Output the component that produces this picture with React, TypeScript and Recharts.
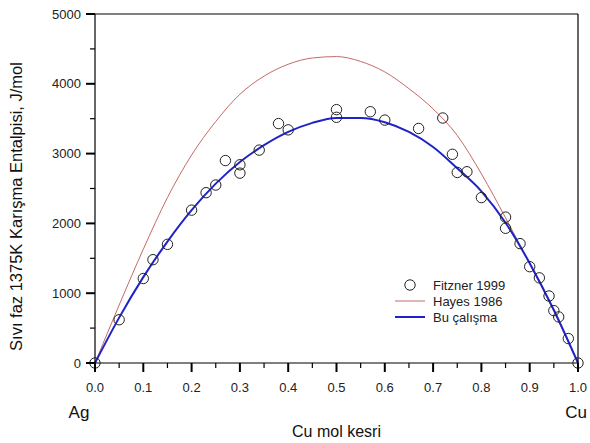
import React from "react";
import {
  ComposedChart,
  Line,
  Scatter,
  XAxis,
  YAxis,
  Legend,
} from "recharts";

// Fitzner 1999 measured points
const fitznerX = [
  0.0, 0.05, 0.1, 0.12, 0.15, 0.2, 0.23, 0.25, 0.27, 0.3, 0.3, 0.34, 0.38, 0.4,
  0.5, 0.5, 0.57, 0.6, 0.67, 0.72, 0.74, 0.75, 0.77, 0.8, 0.85, 0.85, 0.88,
  0.9, 0.92, 0.94, 0.95, 0.96, 0.98, 1.0,
];
const fitznerY = [
  0, 620, 1210, 1480, 1700, 2190, 2440, 2550, 2900, 2720, 2840, 3050, 3430,
  3340, 3630, 3520, 3600, 3480, 3360, 3510, 2990, 2730, 2740, 2370, 2090, 1930,
  1710, 1380, 1220, 960, 750, 660, 350, 0,
];

// model curves, sampled every 0.05
const curveX = [
  0.0, 0.05, 0.1, 0.15, 0.2, 0.25, 0.3, 0.35, 0.4, 0.45, 0.5, 0.55, 0.6, 0.65,
  0.7, 0.75, 0.8, 0.85, 0.9, 0.95, 1.0,
];
const hayesY = [
  0, 830, 1630, 2370, 2980, 3460, 3850, 4110, 4280, 4370, 4390, 4320, 4170,
  3930, 3640, 3260, 2710, 2080, 1420, 740, 0,
];
const buCalismaY = [
  0, 650, 1230, 1740, 2190, 2570, 2880, 3120, 3310, 3440, 3510, 3510, 3450,
  3310, 3095, 2790, 2460, 2010, 1430, 760, 0,
];

const xTicks = [
  0, 0.05, 0.1, 0.15, 0.2, 0.25, 0.3, 0.35, 0.4, 0.45, 0.5, 0.55, 0.6, 0.65,
  0.7, 0.75, 0.8, 0.85, 0.9, 0.95, 1.0,
];
const yTicks = [0, 500, 1000, 1500, 2000, 2500, 3000, 3500, 4000, 4500, 5000];

const fitzner = fitznerX.map((x, i) => ({ x, y: fitznerY[i] }));
const hayes = curveX.map((x, i) => ({ x, y: hayesY[i] }));
const buCalisma = curveX.map((x, i) => ({ x, y: buCalismaY[i] }));

const FONT = "Arial, 'Liberation Sans', sans-serif";
const RED = "#c46a66";
const BLUE = "#1f22c8";

type Side = "left" | "right" | "top" | "bottom";

function makeTick(side: Side, showLabel: boolean) {
  return (props: any) => {
    const { x, y, payload } = props;
    const v = payload.value as number;
    const vertical = side === "left" || side === "right";
    const major = vertical ? v % 1000 === 0 : Math.round(v * 20) % 2 === 0;
    const len = major ? 9 : 5;
    const sw = major ? 2 : 1.2;
    let line;
    if (side === "left") line = <line x1={x} x2={x - len} y1={y} y2={y} />;
    else if (side === "right") line = <line x1={x} x2={x + len} y1={y} y2={y} />;
    else if (side === "top") line = <line x1={x} x2={x} y1={y} y2={y - len} />;
    else line = <line x1={x} x2={x} y1={y} y2={y + len} />;
    return (
      <g>
        <g stroke="#000" strokeWidth={sw}>{line}</g>
        {showLabel && major && side === "left" && (
          <text
            x={x - 14}
            y={y}
            textAnchor="end"
            dominantBaseline="central"
            fontSize={13}
            fontFamily={FONT}
            fill="#222"
          >
            {v}
          </text>
        )}
        {showLabel && major && side === "bottom" && (
          <text
            x={x}
            y={y + 24}
            textAnchor="middle"
            dominantBaseline="central"
            fontSize={13}
            fontFamily={FONT}
            fill="#222"
          >
            {v.toFixed(1)}
          </text>
        )}
      </g>
    );
  };
}

function XLabel(props: any) {
  const { viewBox } = props;
  const left = viewBox.x;
  const right = viewBox.x + viewBox.width;
  const top = viewBox.y;
  return (
    <g fontFamily={FONT} fill="#111">
      <text x={left - 16} y={top + 49} textAnchor="middle" dominantBaseline="central" fontSize={17}>
        Ag
      </text>
      <text x={right - 2} y={top + 49} textAnchor="middle" dominantBaseline="central" fontSize={17}>
        Cu
      </text>
      <text x={left + viewBox.width / 2} y={top + 68} textAnchor="middle" dominantBaseline="central" fontSize={16}>
        Cu mol kesri
      </text>
    </g>
  );
}

function YLabel(props: any) {
  const { viewBox } = props;
  const cy = viewBox.y + viewBox.height / 2 + 18;
  const cx = 16;
  return (
    <text
      x={cx}
      y={cy}
      transform={`rotate(-90, ${cx}, ${cy})`}
      textAnchor="middle"
      dominantBaseline="central"
      fontSize={16.5}
      fontFamily={FONT}
      fill="#111"
    >
      Sıvı faz 1375K Karışma Entalpisi, J/mol
    </text>
  );
}

function OpenCircle(props: any) {
  const { cx, cy } = props;
  return <circle cx={cx} cy={cy} r={5.2} fill="none" stroke="#222" strokeWidth={1} />;
}

function LegendBox() {
  return (
    <svg width={150} height={56} style={{ display: "block", fontFamily: FONT }}>
      <circle cx={17} cy={9} r={5.2} fill="none" stroke="#222" strokeWidth={1} />
      <text x={40} y={9} dominantBaseline="central" fontSize={13} fill="#222">
        Fitzner 1999
      </text>
      <line x1={2} x2={32} y1={25} y2={25} stroke={RED} strokeWidth={1} />
      <text x={40} y={25} dominantBaseline="central" fontSize={13} fill="#222">
        Hayes 1986
      </text>
      <line x1={2} x2={32} y1={41} y2={41} stroke={BLUE} strokeWidth={2} />
      <text x={40} y={41} dominantBaseline="central" fontSize={13} fill="#222">
        Bu çalışma
      </text>
    </svg>
  );
}

export default function App() {
  return (
    <div style={{ position: "absolute", left: 0, top: 0, background: "#fff" }}>
      <ComposedChart
        width={590}
        height={443}
        margin={{ top: 4, right: 0, bottom: 50, left: 40 }}
      >
        <XAxis
          xAxisId="main"
          dataKey="x"
          type="number"
          domain={[0, 1]}
          ticks={xTicks}
          interval={0}
          height={30}
          tickLine={false}
          tickSize={0}
          tickMargin={0}
          axisLine={{ stroke: "#000", strokeWidth: 1.2 }}
          tick={makeTick("bottom", true)}
          label={<XLabel />}
        />
        <XAxis
          xAxisId="top"
          orientation="top"
          type="number"
          domain={[0, 1]}
          ticks={xTicks}
          interval={0}
          height={10}
          tickLine={false}
          tickSize={0}
          tickMargin={0}
          axisLine={{ stroke: "#000", strokeWidth: 1.2 }}
          tick={makeTick("top", false)}
        />
        <YAxis
          yAxisId="main"
          type="number"
          domain={[0, 5000]}
          ticks={yTicks}
          interval={0}
          width={55}
          tickLine={false}
          tickSize={0}
          tickMargin={0}
          axisLine={{ stroke: "#000", strokeWidth: 1.2 }}
          tick={makeTick("left", true)}
          label={<YLabel />}
        />
        <YAxis
          yAxisId="right"
          orientation="right"
          type="number"
          domain={[0, 5000]}
          ticks={yTicks}
          interval={0}
          width={12}
          tickLine={false}
          tickSize={0}
          tickMargin={0}
          axisLine={{ stroke: "#000", strokeWidth: 1.2 }}
          tick={makeTick("right", false)}
        />
        <Line
          xAxisId="main"
          yAxisId="main"
          data={hayes}
          dataKey="y"
          type="monotone"
          stroke={RED}
          strokeWidth={1}
          dot={false}
          isAnimationActive={false}
        />
        <Line
          xAxisId="main"
          yAxisId="main"
          data={buCalisma}
          dataKey="y"
          type="monotone"
          stroke={BLUE}
          strokeWidth={2}
          dot={false}
          isAnimationActive={false}
        />
        <Scatter
          xAxisId="main"
          yAxisId="main"
          data={fitzner}
          dataKey="y"
          shape={<OpenCircle />}
          isAnimationActive={false}
        />
        <Legend
          layout="vertical"
          align="center"
          verticalAlign="middle"
          content={<LegendBox />}
          wrapperStyle={{ left: 393, top: 276, width: 150, height: 56 }}
        />
      </ComposedChart>
    </div>
  );
}
